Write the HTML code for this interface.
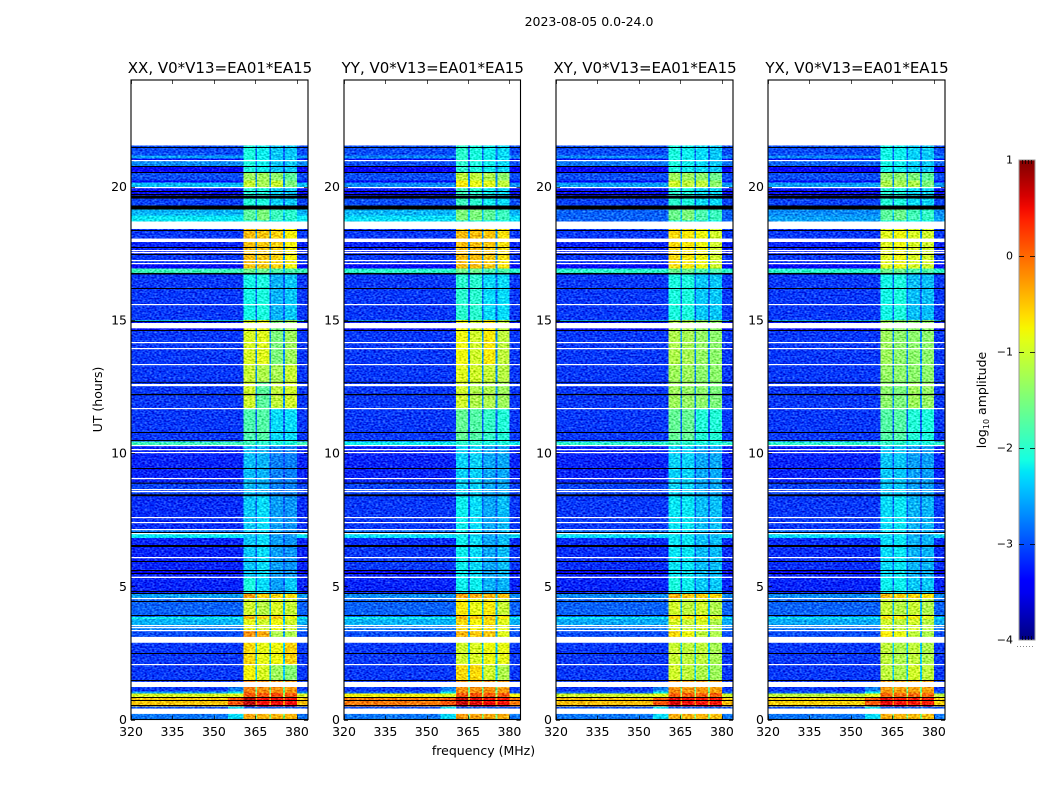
<!DOCTYPE html>
<html lang="en">
<head>
<meta charset="utf-8">
<title>2023-08-05 spectrogram</title>
<style>
html,body{margin:0;padding:0;background:#fff;}
svg{display:block;}
text{font-family:"DejaVu Sans","Liberation Sans",sans-serif;fill:#000;}
</style>
</head>
<body>
<svg id="figure" xmlns="http://www.w3.org/2000/svg" width="1050" height="800" viewBox="0 0 1050 800">
  <defs>
    <filter id="grain" x="0" y="0" width="100%" height="100%" color-interpolation-filters="sRGB">
      <feTurbulence type="fractalNoise" baseFrequency="0.42 0.62" numOctaves="1" seed="7" result="n"/>
      <feColorMatrix in="n" type="matrix" values="1 0 0 0 0 1 0 0 0 0 1 0 0 0 0 0 0 0 0 1" result="g"/>
      <feComposite in="SourceGraphic" in2="g" operator="arithmetic" k1="0" k2="1" k3="0.9" k4="-0.45" result="c"/>
      <feComposite in="c" in2="SourceGraphic" operator="in"/>
    </filter>
    <linearGradient id="jet-gradient" x1="0" y1="1" x2="0" y2="0"></linearGradient>
  </defs>
  <text x="589" y="26" font-size="12.5" text-anchor="middle">2023-08-05 0.0-24.0</text>
  <text x="483.5" y="755" font-size="12.5" text-anchor="middle">frequency (MHz)</text>
  <text x="0" y="0" font-size="12.5" text-anchor="middle" transform="translate(102,399.5) rotate(-90)">UT (hours)</text>
  <g id="panels"></g>
  <g id="colorbar"></g>
  <text font-size="12.5" text-anchor="middle" transform="translate(986,400) rotate(-90)">log<tspan font-size="8" dy="3">10</tspan><tspan dy="-3"> amplitude</tspan></text>
</svg>
<script>
// ---------- chart data (log10 amplitude, hours, MHz) ----------
const panelTitles = ["XX, V0*V13=EA01*EA15", "YY, V0*V13=EA01*EA15", "XY, V0*V13=EA01*EA15", "YX, V0*V13=EA01*EA15"];
const xTicks = [320, 335, 350, 365, 380];
const yTicks = [0, 5, 10, 15, 20];
const colorbarTicks = [-4, -3, -2, -1, 0, 1];
const dataEndHour = 21.54;

// Off-band background, lower edge of each time segment
const bgHours = [0,0.41,0.48,0.85,0.97,1.05,2.88,3.33,3.52,3.77,3.85,4.54,4.73,5.48,5.58,6.54,6.82,6.97,7.13,8.38,8.89,10.31,10.44,14.6,14.92,15.0,16.7,16.93,17.08,17.45,18.05,18.41,18.69,18.92,19.29,19.66,19.95,20.15,20.23,20.51,20.75,20.96,21.05,21.17];
const bgXX = [-2.8,-3.0,-0.5,-0.95,-2.6,-3.1,-3.0,-2.75,-2.5,-2.2,-2.9,-2.6,-3.2,-3.5,-3.2,-3.2,-2.25,-2.8,-3.15,-3.05,-3.2,-1.9,-3.1,-3.3,-2.4,-3.1,-1.9,-3.45,-3.1,-3.2,-3.1,-2.2,-2.25,-2.5,-3.05,-3.3,-2.45,-3.4,-3.0,-3.4,-2.7,-3.4,-2.6,-3.0];
const bgYY = [-2.8,-3.0,-0.1,-0.75,-2.9,-3.1,-3.0,-2.8,-2.5,-2.2,-2.9,-2.7,-3.2,-3.5,-3.1,-3.15,-2.3,-2.85,-3.1,-3.05,-3.2,-2.2,-3.1,-3.3,-2.6,-3.1,-2.0,-3.45,-3.1,-3.2,-3.1,-2.3,-2.3,-2.5,-3.0,-3.3,-2.7,-3.4,-3.0,-3.4,-3.0,-3.4,-2.7,-3.0];
const bgXY = [-2.8,-3.0,-0.45,-1.0,-2.9,-3.1,-3.0,-2.8,-2.55,-2.25,-2.9,-2.7,-3.2,-3.5,-3.15,-3.15,-2.3,-2.85,-3.1,-3.05,-3.2,-2.0,-3.1,-3.3,-2.5,-3.1,-2.0,-3.45,-3.1,-3.2,-3.1,-2.3,-2.9,-2.9,-3.05,-3.3,-2.6,-3.4,-3.0,-3.4,-2.8,-3.4,-2.7,-3.0];
const bgYX = [-2.8,-3.0,-0.55,-1.1,-2.9,-3.1,-3.0,-2.8,-2.55,-2.25,-2.9,-2.7,-3.2,-3.5,-3.15,-3.15,-2.3,-2.85,-3.1,-3.05,-3.2,-2.0,-3.1,-3.3,-2.5,-3.1,-2.0,-3.45,-3.1,-3.2,-3.1,-2.3,-2.6,-2.7,-3.05,-3.3,-2.6,-3.4,-3.0,-3.4,-2.9,-3.4,-2.7,-3.0];

// Leakage just below the strong band (355–360.6 MHz)
const skirtHours = [0,0.48,0.85,0.97,1.05];
const skirtLevels = [-2.3,0.1,-0.9,-2.2,-2.75];
const skirtEndHour = 1.22;

// Four sub-bands (360.6–365, 365.6–370, 370.6–375, 375.6–380 MHz)
const bandEdges = [[360.6,365],[365.6,370],[370.6,375],[375.6,380]];
const gapEdges = [[365,365.6],[370,370.6],[375,375.6]];
const bandHours = [0,0.41,0.48,0.85,1.0,1.46,2.07,3.1,3.33,3.77,3.9,4.54,4.73,5.31,8.38,10.31,10.46,11.66,12.64,13.31,15.0,16.76,16.93,18.41,18.73,19.29,19.95,20.23,20.51];
const gapLevels = [-1.5,-2.9,-0.2,-1.2,-1.6,-2.4,-2.4,-2.6,-2.5,-2.3,-2.5,-2.4,-2.9,-2.9,-3.0,-2.4,-2.9,-2.7,-2.7,-2.7,-2.9,-2.5,-2.7,-2.4,-2.4,-2.9,-2.6,-2.7,-2.9];
const bandXX = [[-0.3,-0.4,-0.4,-0.4],[-2.9,-2.9,-2.9,-2.9],[0.75,0.5,0.5,0.5],[0.1,0.1,0.15,0.1],[-0.1,-0.2,-0.2,-0.25],[-0.75,-0.95,-1.3,-1.45],[-0.6,-0.85,-0.8,-0.55],[-0.2,-0.35,-1.2,-1.2],[-0.85,-1.0,-0.8,-1.0],[-0.45,-0.55,-0.5,-0.8],[-1.0,-1.15,-0.95,-1.05],[-0.3,-0.55,-0.6,-0.65],[-2.1,-2.3,-2.6,-2.4],[-2.4,-2.3,-2.6,-2.65],[-2.45,-2.5,-2.75,-2.75],[-1.9,-2.0,-2.1,-2.1],[-1.8,-1.75,-2.3,-2.3],[-1.0,-1.7,-1.1,-1.0],[-1.05,-1.2,-1.25,-1.05],[-0.95,-0.9,-1.5,-1.3],[-2.15,-2.1,-2.5,-2.4],[-1.6,-1.6,-1.8,-1.8],[-0.45,-0.5,-0.55,-0.75],[-2.1,-2.1,-2.2,-2.2],[-1.7,-1.5,-1.9,-2.0],[-2.05,-2.1,-2.35,-2.4],[-1.05,-1.25,-1.05,-1.5],[-1.3,-1.3,-1.4,-1.7],[-2.1,-2.2,-2.4,-2.4]];
const bandYY = [[-0.25,-0.3,-0.35,-0.35],[-2.9,-2.9,-2.9,-2.9],[0.7,0.6,0.5,0.45],[0.1,0.1,0.1,0.1],[-0.2,-0.2,-0.2,-0.25],[-0.6,-0.6,-1.0,-1.2],[-1.0,-0.95,-0.8,-0.85],[-0.4,-0.5,-0.5,-0.9],[-0.6,-0.75,-0.65,-0.9],[-0.4,-0.5,-0.5,-0.7],[-0.7,-0.85,-0.7,-1.05],[-0.3,-0.35,-0.4,-0.45],[-2.2,-2.2,-2.5,-2.5],[-2.2,-2.3,-2.55,-2.45],[-2.35,-2.35,-2.55,-2.55],[-2.0,-2.0,-2.1,-2.1],[-1.65,-1.75,-1.95,-2.05],[-1.0,-1.2,-1.2,-1.3],[-0.9,-1.0,-1.05,-1.15],[-0.8,-1.0,-0.7,-1.1],[-2.0,-2.0,-2.3,-2.3],[-1.6,-1.6,-1.8,-1.8],[-0.45,-0.45,-0.5,-0.65],[-2.1,-2.1,-2.2,-2.2],[-1.5,-1.5,-1.7,-1.9],[-1.9,-2.0,-2.2,-2.3],[-0.7,-0.85,-0.9,-1.1],[-1.1,-1.1,-1.2,-1.4],[-2.0,-2.1,-2.2,-2.3]];
const bandXY = [[-0.35,-0.4,-0.4,-0.45],[-2.9,-2.9,-2.9,-2.9],[0.6,0.5,0.45,0.45],[0.05,0.05,0.05,0.05],[-0.2,-0.25,-0.25,-0.3],[-1.0,-1.1,-1.2,-1.3],[-1.05,-1.1,-1.1,-1.25],[-0.6,-0.8,-1.1,-1.2],[-0.95,-1.05,-0.95,-1.2],[-0.6,-0.7,-0.7,-0.9],[-1.0,-1.1,-1.0,-1.2],[-0.4,-0.5,-0.55,-0.6],[-2.1,-2.2,-2.4,-2.4],[-2.25,-2.25,-2.45,-2.45],[-2.35,-2.35,-2.55,-2.55],[-1.9,-2.0,-2.1,-2.1],[-1.65,-1.65,-2.05,-2.05],[-1.3,-1.35,-1.4,-1.5],[-1.3,-1.3,-1.4,-1.4],[-1.2,-1.25,-1.35,-1.4],[-2.1,-2.1,-2.4,-2.4],[-1.6,-1.6,-1.8,-1.8],[-0.6,-0.7,-0.8,-1.0],[-2.1,-2.1,-2.2,-2.2],[-1.6,-1.5,-1.8,-1.9],[-2.0,-2.1,-2.3,-2.3],[-1.0,-1.1,-1.1,-1.4],[-1.3,-1.3,-1.4,-1.6],[-2.1,-2.2,-2.3,-2.4]];
const bandYX = [[-0.35,-0.4,-0.45,-0.45],[-2.9,-2.9,-2.9,-2.9],[0.55,0.45,0.4,0.4],[0.0,0.0,0.0,0.0],[-0.25,-0.3,-0.3,-0.3],[-1.1,-1.2,-1.0,-1.1],[-1.1,-1.2,-1.1,-1.2],[-0.7,-0.85,-1.1,-1.2],[-1.0,-1.1,-1.0,-1.15],[-0.65,-0.75,-0.75,-0.9],[-1.05,-1.15,-1.05,-1.2],[-0.45,-0.55,-0.6,-0.65],[-2.2,-2.2,-2.4,-2.4],[-2.3,-2.25,-2.5,-2.5],[-2.4,-2.4,-2.6,-2.6],[-1.95,-2.0,-2.1,-2.1],[-1.75,-1.75,-2.05,-2.1],[-1.4,-1.5,-1.3,-1.35],[-1.35,-1.4,-1.4,-1.4],[-1.3,-1.4,-1.4,-1.4],[-2.15,-2.1,-2.45,-2.45],[-1.6,-1.6,-1.8,-1.8],[-0.9,-0.8,-0.95,-1.0],[-2.1,-2.1,-2.2,-2.2],[-1.7,-1.6,-1.85,-1.95],[-2.05,-2.1,-2.3,-2.35],[-1.2,-1.25,-1.2,-1.5],[-1.4,-1.4,-1.5,-1.7],[-2.15,-2.2,-2.35,-2.4]];

// Flagged integrations, in hours (shared across correlations)
const whiteLineHours = [20.96,19.95,17.60,17.53,17.21,17.12,15.56,14.14,13.93,13.31,12.58,12.52,11.66,10.29,10.13,10.01,9.04,8.61,8.54,7.58,7.39,7.13,6.98,6.08,4.54,3.52,3.44,3.33,2.07];
const blackLineHours = [21.45,20.75,20.51,19.83,19.70,18.35,17.73,17.45,16.19,14.60,10.78,10.46,9.43,7.01,6.54,6.48,5.94,5.58,5.48,4.82,4.73,4.44,3.89,2.46,1.46,0.82,0.70,0.51];
const whiteBlockStarts = [18.41,17.92,14.68,5.31,2.88,1.22,0.21];
const whiteBlockEnds = [18.69,18.05,14.88,5.36,3.10,1.41,0.41];
const blackBlockStarts = [19.55,19.14,16.70,14.92,12.64,12.17,8.85,8.38];
const blackBlockEnds = [19.66,19.29,16.76,14.96,12.67,12.22,8.89,8.45];

// ---------- layout ----------
const bgSeries = [bgXX, bgYY, bgXY, bgYX];
const bandSeries = [bandXX, bandYY, bandXY, bandYX];
const panelNames = ["xx", "yy", "xy", "yx"];
const axLefts = [131, 344, 556, 768];
const axWidths = [177, 176.5, 177, 177];
const axTop = 80, axBottom = 719.5;
const FMIN = 320, FMAX = 384, HMIN = 0, HMAX = 24;
const cbLeft = 1019, cbRight = 1035, cbTop = 160, cbBottom = 640, CMIN = -4, CMAX = 1;
const NS = "http://www.w3.org/2000/svg";

function yScale(h){ return axBottom - (h - HMIN) / (HMAX - HMIN) * (axBottom - axTop); }
function xScale(p, f){ return axLefts[p] + (f - FMIN) / (FMAX - FMIN) * axWidths[p]; }
function cScale(v){ return cbBottom - (v - CMIN) / (CMAX - CMIN) * (cbBottom - cbTop); }

function interp(t, xs, ys){
  for (let i = 1; i < xs.length; i++) {
    if (t <= xs[i]) return ys[i-1] + (ys[i]-ys[i-1]) * (t-xs[i-1]) / (xs[i]-xs[i-1]);
  }
  return ys[ys.length-1];
}
function jet(t){
  t = Math.max(0, Math.min(1, t));
  const r = interp(t,[0,.35,.66,.89,1],[0,0,1,1,.5]);
  const g = interp(t,[0,.125,.375,.64,.91,1],[0,0,1,1,0,0]);
  const b = interp(t,[0,.11,.34,.65,1],[.5,1,1,0,0]);
  return "rgb("+Math.round(r*255)+","+Math.round(g*255)+","+Math.round(b*255)+")";
}
function levelColor(v){ return jet((v - CMIN) / (CMAX - CMIN)); }

function make(tag, attrs, parent){
  const el = document.createElementNS(NS, tag);
  for (const k in attrs) el.setAttribute(k, attrs[k]);
  parent.appendChild(el);
  return el;
}
function cell(p, f0, f1, h0, h1, level, parent){
  const x0 = xScale(p, f0), x1 = xScale(p, f1), y0 = yScale(h1), y1 = yScale(h0);
  return make("rect", {x:x0, y:y0, width:x1-x0, height:y1-y0, fill:levelColor(level), "shape-rendering":"crispEdges"}, parent);
}
function nextEdge(hours, i, end){ return i + 1 < hours.length ? hours[i+1] : end; }

const panelsRoot = document.getElementById("panels");

panelTitles.forEach(function(title, p){
  const panel = make("g", {}, panelsRoot);
  
  

  const heat = make("g", {filter:"url(#grain)"}, panel);
  
  

  // background cells
  bgHours.forEach(function(h, i){
    const h1 = nextEdge(bgHours, i, dataEndHour);
    const rect = cell(p, FMIN, FMAX, h, h1, bgSeries[p][i], heat);
    
    
  });
  // skirt cells
  skirtHours.forEach(function(h, i){
    const h1 = nextEdge(skirtHours, i, skirtEndHour);
    const rect = cell(p, 355, 360.6, h, h1, skirtLevels[i], heat);
    
    
  });
  // band cells
  bandHours.forEach(function(h, i){
    const h1 = nextEdge(bandHours, i, dataEndHour);
    bandEdges.forEach(function(edge, b){
      const rect = cell(p, edge[0], edge[1], h, h1, bandSeries[p][i][b], heat);
      
      
    });
    gapEdges.forEach(function(edge){
      const rect = cell(p, edge[0], edge[1], h, h1, gapLevels[i], heat);
      
      
    });
  });

  // flags
  const flagX = xScale(p, FMIN), flagW = xScale(p, FMAX) - flagX;
  whiteBlockStarts.forEach(function(h, i){
    const r = make("rect", {x:flagX, y:yScale(whiteBlockEnds[i]), width:flagW, height:yScale(h)-yScale(whiteBlockEnds[i]), fill:"#fff"}, panel);
    
    
  });
  whiteLineHours.forEach(function(h){
    const r = make("rect", {x:flagX, y:Math.round(yScale(h)-0.6), width:flagW, height:1.2, fill:"#fff"}, panel);
    
    
  });
  blackBlockStarts.forEach(function(h, i){
    const r = make("rect", {x:flagX, y:yScale(blackBlockEnds[i]), width:flagW, height:yScale(h)-yScale(blackBlockEnds[i]), fill:"#000"}, panel);
    
    
  });
  blackLineHours.forEach(function(h){
    const r = make("rect", {x:flagX, y:Math.round(yScale(h)-0.5), width:flagW, height:1, fill:"#000"}, panel);
    
    
  });

  // frame
  const frame = make("rect", {x:axLefts[p], y:axTop, width:axWidths[p], height:axBottom-axTop, fill:"none", stroke:"#000", "stroke-width":1.1}, panel);
  
  

  // title
  const t = make("text", {x:axLefts[p]+axWidths[p]/2+0.5, y:73, "font-size":15, "text-anchor":"middle"}, panel);
  t.textContent = title;
  
  

  // x ticks
  xTicks.forEach(function(f){
    const x = Math.round(xScale(p, f)) + 0.5;
    const a = make("line", {x1:x, x2:x, y1:axBottom, y2:axBottom-4, stroke:"#000", "stroke-width":0.7}, panel);
    
    
    const b = make("line", {x1:x, x2:x, y1:axTop, y2:axTop+4, stroke:"#000", "stroke-width":0.7}, panel);
    
    
    const l = make("text", {x:xScale(p, f), y:736, "font-size":12.5, "text-anchor":"middle"}, panel);
    l.textContent = String(f);
    
    
  });
  // y ticks
  yTicks.forEach(function(h){
    const y = Math.round(yScale(h)) + 0.5;
    const xl = axLefts[p], xr = axLefts[p] + axWidths[p];
    const a = make("line", {x1:xl, x2:xl+4, y1:y, y2:y, stroke:"#000", "stroke-width":0.7}, panel);
    
    
    const b = make("line", {x1:xr, x2:xr-4, y1:y, y2:y, stroke:"#000", "stroke-width":0.7}, panel);
    
    
    const l = make("text", {x:xl-4, y:yScale(h)+4.5, "font-size":12.5, "text-anchor":"end"}, panel);
    l.textContent = String(h);
    
    
  });
});

// ---------- colorbar ----------
const cbRoot = document.getElementById("colorbar");
const grad = document.getElementById("jet-gradient");
for (let i = 0; i <= 40; i++) {
  make("stop", {offset:(i/40), "stop-color":jet(i/40)}, grad);
}
const cbRect = make("rect", {x:cbLeft, y:cbTop, width:cbRight-cbLeft, height:cbBottom-cbTop, fill:"url(#jet-gradient)", stroke:"#9a9a9a", "stroke-width":1}, cbRoot);



colorbarTicks.forEach(function(v){
  const y = Math.round(cScale(v));
  const l = make("text", {x:cbLeft-6, y:cScale(v)+3.5, "font-size":11, "text-anchor":"end"}, cbRoot);
  l.textContent = (v < 0 ? "\u2212" + Math.abs(v) : String(v));
  
  
  if (v !== CMIN && v !== CMAX) {
    const a = make("line", {x1:cbLeft, x2:cbLeft+5, y1:y+0.5, y2:y+0.5, stroke:"#000", "stroke-width":0.8}, cbRoot);
    
    
    const b = make("line", {x1:cbRight-5, x2:cbRight, y1:y+0.5, y2:y+0.5, stroke:"#000", "stroke-width":0.8}, cbRoot);
    
    
  }
});

// ends of the colorbar carry short minor ticks
[1022, 1025, 1028, 1031].forEach(function(x){
  const a = make("line", {x1:x+0.5, x2:x+0.5, y1:cbTop, y2:cbTop+4, stroke:"#000", "stroke-width":0.7}, cbRoot);
  
  
  const b = make("line", {x1:x+0.5, x2:x+0.5, y1:cbBottom, y2:cbBottom-4, stroke:"#000", "stroke-width":0.7}, cbRoot);
  
  
});
const dots = make("line", {x1:1017, x2:1035, y1:646.5, y2:646.5, stroke:"#888", "stroke-width":1, "stroke-dasharray":"1 2"}, cbRoot);


</script>
</body>
</html>
